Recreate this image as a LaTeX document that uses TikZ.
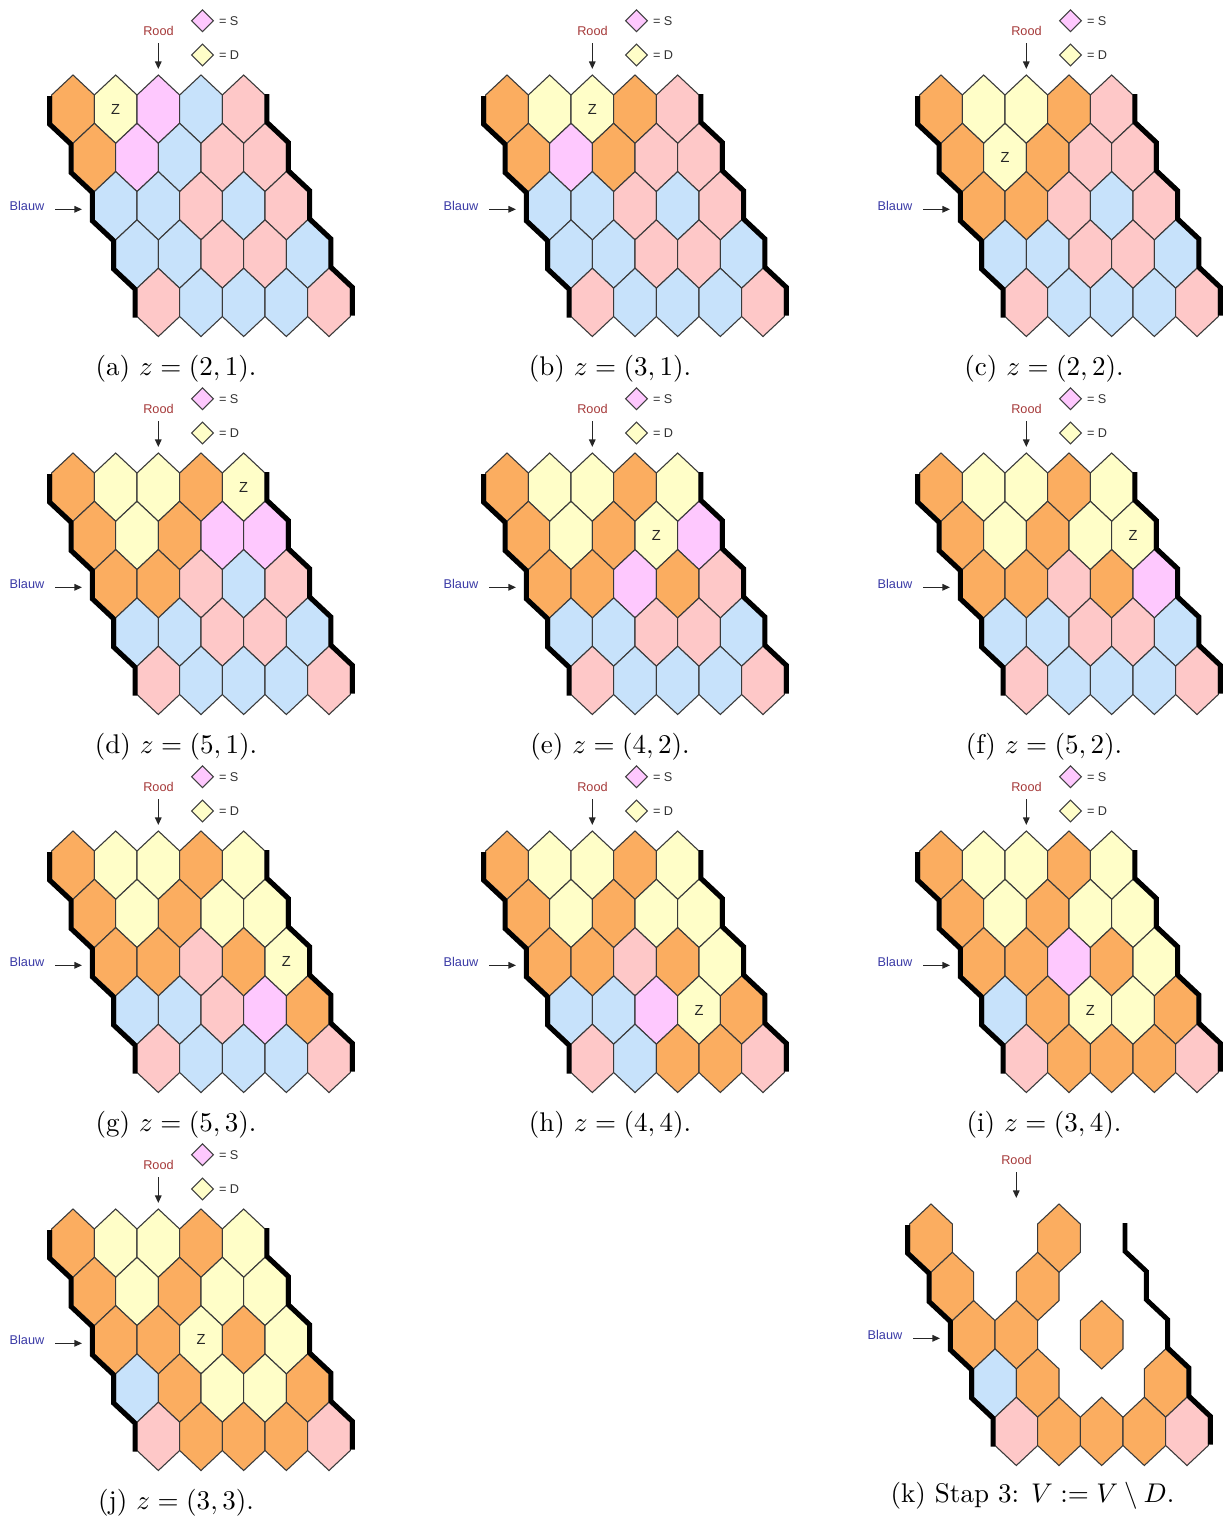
\documentclass[tikz,border=0pt]{standalone}
\usepackage{fontspec}
\newfontfamily\labfont{Liberation Sans}
\usetikzlibrary{shapes.geometric,arrows.meta}
\definecolor{hO}{HTML}{FBAD60}
\definecolor{hY}{HTML}{FFFEC8}
\definecolor{hS}{HTML}{FEC8FE}
\definecolor{hB}{HTML}{C7E2FB}
\definecolor{hR}{HTML}{FEC8C8}
\definecolor{roodC}{HTML}{A63A3A}
\definecolor{blauwC}{HTML}{3A3AA6}
\definecolor{edgeC}{HTML}{3A3A3A}

\newcommand\panelgrid[2]{%
  \foreach \rowlist [count=\hr from 0] in {#2} {
    \foreach \col [count=\hc from 0] in \rowlist {
      \if\col N\else
        \pgfmathsetmacro\hx{73+\hc*42.667+\hr*21.333}
        \pgfmathsetmacro\hy{109.15+\hr*48.3}
        \path[hexcell,fill=h\col] (\hx,\hy) ++(0,-34.15) -- ++(21.333,20) -- ++(0,28.3)
          -- ++(-21.333,20) -- ++(-21.333,-20) -- ++(0,-28.3) -- cycle;
      \fi
    }
  }
  \draw[edgeline] (49.67,96) -- (49.67,124.3) -- (71,144.3) -- (71,172.6) -- (92.33,192.6)
    -- (92.33,220.9) -- (113.67,240.9) -- (113.67,269.2) -- (135,289.2) -- (135,317.5);
  \draw[edgeline] (267,94) -- (267,122.3) -- (288.33,142.3) -- (288.33,170.6) -- (309.67,190.6)
    -- (309.67,218.9) -- (331,238.9) -- (331,267.2) -- (352.33,287.2) -- (352.33,315.5);
  \node[roodlab] (rood#1) at (158.5,31) {Rood};
  \coordinate (ra#1) at (158.3,43);
  \coordinate (rb#1) at (158.3,69);
  \draw[arr] (ra#1) -- (rb#1);
  \node[blauwlab] (blauw#1) at (27,205.5) {Blauw};
  \coordinate (ba#1) at (55,209.3);
  \coordinate (bb#1) at (82,209.3);
  \draw[arr] (ba#1) -- (bb#1);
}
\newcommand\panellegend[1]{%
  \node[legdia,fill=hS] (dS#1) at (202.5,20.7) {};
  \node[leglab] (tS#1) at (218.5,20.7) {= S};
  \node[legdia,fill=hY] (dY#1) at (202.5,55) {};
  \node[leglab] (tD#1) at (218.5,55) {= D};
}
\newcommand\zmark[3]{%
  \pgfmathsetmacro\zx{73+#3*42.667+#2*21.333}
  \pgfmathsetmacro\zy{109.15+#2*48.3}
  \node[zlab] (z#1) at (\zx,\zy) {Z};
}

\begin{document}
\begin{tikzpicture}[x=0.37pt,y=-0.37pt,
  hexcell/.style={draw=edgeC,line width=0.4pt,line join=miter},
  edgeline/.style={draw=black,line width=1.8pt,line join=miter},
  arr/.style={draw=black!85,line width=0.5pt,-{Triangle[length=2.8pt,width=2.4pt]}},
  roodlab/.style={font=\labfont\fontsize{4.7}{5}\selectfont,text=roodC,inner sep=0pt},
  blauwlab/.style={font=\labfont\fontsize{4.7}{5}\selectfont,text=blauwC,inner sep=0pt},
  leglab/.style={font=\labfont\fontsize{4.7}{5}\selectfont,text=black!80,inner sep=0pt,anchor=west},
  legdia/.style={diamond,draw=black!75,line width=0.4pt,minimum width=8.2pt,minimum height=8.2pt,inner sep=0pt},
  zlab/.style={font=\labfont\fontsize{5.4}{6}\selectfont,text=black!85,inner sep=0pt},
  captext/.style={anchor=base,inner sep=0pt,font=\fontsize{10}{12}\selectfont}]
\useasboundingbox (0,0) rectangle (1227,1517);
\fill[white] (0,0) rectangle (1227,1517);

% (a)
\begin{scope}[shift={(0,0)}]
\panelgrid{a}{{O,Y,S,B,R},{O,S,B,R,R},{B,B,R,B,R},{B,B,R,R,B},{R,B,B,B,R}}
\panellegend{a}\zmark{a}{0}{1}
\node[captext] (capa) at (176,375) {(a) $z=(2,1)$.};
\end{scope}
% (b)
\begin{scope}[shift={(434,0)}]
\panelgrid{b}{{O,Y,Y,O,R},{O,S,O,R,R},{B,B,R,B,R},{B,B,R,R,B},{R,B,B,B,R}}
\panellegend{b}\zmark{b}{0}{2}
\node[captext] (capb) at (176,375) {(b) $z=(3,1)$.};
\end{scope}
% (c)
\begin{scope}[shift={(868,0)}]
\panelgrid{c}{{O,Y,Y,O,R},{O,Y,O,R,R},{O,O,R,B,R},{B,B,R,R,B},{R,B,B,B,R}}
\panellegend{c}\zmark{c}{1}{1}
\node[captext] (capc) at (176,375) {(c) $z=(2,2)$.};
\end{scope}
% (d)
\begin{scope}[shift={(0,378)}]
\panelgrid{d}{{O,Y,Y,O,Y},{O,Y,O,S,S},{O,O,R,B,R},{B,B,R,R,B},{R,B,B,B,R}}
\panellegend{d}\zmark{d}{0}{4}
\node[captext] (capd) at (176,375) {(d) $z=(5,1)$.};
\end{scope}
% (e)
\begin{scope}[shift={(434,378)}]
\panelgrid{e}{{O,Y,Y,O,Y},{O,Y,O,Y,S},{O,O,S,O,R},{B,B,R,R,B},{R,B,B,B,R}}
\panellegend{e}\zmark{e}{1}{3}
\node[captext] (cape) at (176,375) {(e) $z=(4,2)$.};
\end{scope}
% (f)
\begin{scope}[shift={(868,378)}]
\panelgrid{f}{{O,Y,Y,O,Y},{O,Y,O,Y,Y},{O,O,R,O,S},{B,B,R,R,B},{R,B,B,B,R}}
\panellegend{f}\zmark{f}{1}{4}
\node[captext] (capf) at (176,375) {(f) $z=(5,2)$.};
\end{scope}
% (g)
\begin{scope}[shift={(0,756)}]
\panelgrid{g}{{O,Y,Y,O,Y},{O,Y,O,Y,Y},{O,O,R,O,Y},{B,B,R,S,O},{R,B,B,B,R}}
\panellegend{g}\zmark{g}{2}{4}
\node[captext] (capg) at (176,375) {(g) $z=(5,3)$.};
\end{scope}
% (h)
\begin{scope}[shift={(434,756)}]
\panelgrid{h}{{O,Y,Y,O,Y},{O,Y,O,Y,Y},{O,O,R,O,Y},{B,B,S,Y,O},{R,B,O,O,R}}
\panellegend{h}\zmark{h}{3}{3}
\node[captext] (caph) at (176,375) {(h) $z=(4,4)$.};
\end{scope}
% (i)
\begin{scope}[shift={(868,756)}]
\panelgrid{i}{{O,Y,Y,O,Y},{O,Y,O,Y,Y},{O,O,S,O,Y},{B,O,Y,Y,O},{R,O,O,O,R}}
\panellegend{i}\zmark{i}{3}{2}
\node[captext] (capi) at (176,375) {(i) $z=(3,4)$.};
\end{scope}
% (j)
\begin{scope}[shift={(0,1134)}]
\panelgrid{j}{{O,Y,Y,O,Y},{O,Y,O,Y,Y},{O,O,Y,O,Y},{B,O,Y,Y,O},{R,O,O,O,R}}
\panellegend{j}\zmark{j}{2}{2}
\node[captext] (capj) at (176,375) {(j) $z=(3,3)$.};
\end{scope}
% (k)
\begin{scope}[shift={(858,1129)}]
\panelgrid{k}{{O,N,N,O,N},{O,N,O,N,N},{O,O,N,O,N},{B,O,N,N,O},{R,O,O,O,R}}
\node[captext] (capk) at (174.5,373) {(k) Stap 3: $V := V \setminus D$.};
\end{scope}
\end{tikzpicture}
\end{document}
